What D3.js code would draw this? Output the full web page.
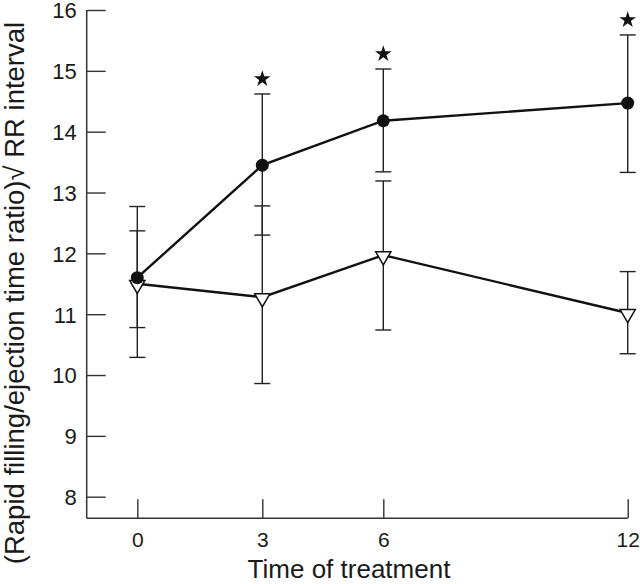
<!DOCTYPE html>
<html>
<head>
<meta charset="utf-8">
<script src="https://cdn.jsdelivr.net/npm/d3@7"></script>
<style>
  html, body { margin: 0; padding: 0; background: #fff; }
  svg { display: block; }
  text { font-family: "Liberation Sans", Arial, Helvetica, sans-serif; fill: #1a1a1a; }
</style>
</head>
<body>
<svg id="chart" width="640" height="584"></svg>
<script>
// ---- data ----
const times = [0, 3, 6, 12];
const xTickLabels = ["0", "3", "6", "12"];
const yTicks = [8, 9, 10, 11, 12, 13, 14, 15, 16];

const circleMean  = [11.6, 13.45, 14.18, 14.47];
const circleUpper = [12.77, 14.62, 15.03, 15.59];
const circleLower = [10.29, 12.30, 13.34, 13.33];

const triMean  = [11.5, 11.28, 11.97, 11.02];
const triUpper = [12.37, 12.78, 13.19, 11.70];
const triLower = [10.78, 9.86, 10.74, 10.35];

const significant = [false, true, true, true];

const xTitle = "Time of treatment";
const yTitle = "(Rapid filling/ejection time ratio)\u221A RR interval";

// ---- scales ----
const svg = d3.select("#chart");
const axisX0 = 86.7;
const x = d3.scaleLinear().domain(times).range([137.3, 262.3, 383.3, 627.7]);
const y = d3.scaleLinear().domain([7.645, 16]).range([518.3, 10]);

const ink = "#111";

// axes
const gx = svg.append("g").attr("transform", `translate(0,${y.range()[0]})`)
  .call(d3.axisBottom(x).tickValues(times).tickFormat((d, i) => xTickLabels[i])
        .tickSizeInner(-19).tickSizeOuter(0).tickPadding(0));
gx.select(".domain").remove();
gx.selectAll(".tick line").attr("stroke", "#333").attr("stroke-width", 1.4);
gx.selectAll(".tick text").attr("y", 29).attr("dy", 0)
  .attr("font-size", 21).attr("fill", "#1a1a1a");

const gy = svg.append("g").attr("transform", `translate(${axisX0},0)`)
  .call(d3.axisLeft(y).tickValues(yTicks).tickFormat(d3.format("d"))
        .tickSizeInner(-19).tickSizeOuter(0).tickPadding(0));
gy.select(".domain").remove();
gy.selectAll(".tick line").attr("stroke", "#333").attr("stroke-width", 1.4);
gy.selectAll(".tick text").attr("x", -10).attr("dy", "0.36em")
  .attr("font-size", 22).attr("fill", "#1a1a1a");

// axis lines
svg.append("line")
  .attr("x1", axisX0).attr("x2", axisX0)
  .attr("y1", y(16)).attr("y2", y.range()[0])
  .attr("stroke", "#333").attr("stroke-width", 1.5);
svg.append("line")
  .attr("x1", axisX0).attr("x2", x(12))
  .attr("y1", y.range()[0]).attr("y2", y.range()[0])
  .attr("stroke", "#333").attr("stroke-width", 1.5);

// error bars
function errorBars(lower, upper) {
  const g = svg.append("g");
  const capW = 8;
  times.forEach((t, i) => {
    g.append("line").attr("x1", x(t)).attr("x2", x(t))
      .attr("y1", y(lower[i])).attr("y2", y(upper[i]))
      .attr("stroke", "#222").attr("stroke-width", 1.4);
    [lower[i], upper[i]].forEach(v => {
      g.append("line").attr("x1", x(t) - capW).attr("x2", x(t) + capW)
        .attr("y1", y(v)).attr("y2", y(v))
        .attr("stroke", "#222").attr("stroke-width", 1.4);
    });
  });
}
errorBars(triLower, triUpper);
errorBars(circleLower, circleUpper);

// lines
const line = d3.line().x((d, i) => x(times[i])).y(d => y(d));
svg.append("path").datum(triMean).attr("d", line)
  .attr("fill", "none").attr("stroke", ink).attr("stroke-width", 2.4);
svg.append("path").datum(circleMean).attr("d", line)
  .attr("fill", "none").attr("stroke", ink).attr("stroke-width", 2.4);

// triangle markers (pointing down)
const tri = d3.symbol().type(d3.symbolTriangle).size(100);
svg.append("g").selectAll("path").data(triMean).join("path")
  .attr("d", tri)
  .attr("transform", (d, i) => `translate(${x(times[i])},${y(d) + 1}) rotate(180)`)
  .attr("fill", "#fff").attr("stroke", ink).attr("stroke-width", 1.5);

// circle markers
svg.append("g").selectAll("circle").data(circleMean).join("circle")
  .attr("cx", (d, i) => x(times[i])).attr("cy", d => y(d))
  .attr("r", 6.5).attr("fill", ink);

// significance stars
const star = d3.symbol().type(d3.symbolStar).size(85);
svg.append("g").selectAll("path").data(circleUpper.map((v, i) => ({v, i})).filter(d => significant[d.i]))
  .join("path")
  .attr("d", star)
  .attr("transform", d => `translate(${x(times[d.i])},${y(d.v) - 15})`)
  .attr("fill", ink);

// titles
svg.append("text")
  .attr("x", 349).attr("y", 578)
  .attr("text-anchor", "middle").attr("font-size", 26)
  .text(xTitle);

svg.append("text")
  .attr("transform", "translate(24,293) rotate(-90)")
  .attr("text-anchor", "middle").attr("font-size", 27.5)
  .text(yTitle);
</script>
</body>
</html>
